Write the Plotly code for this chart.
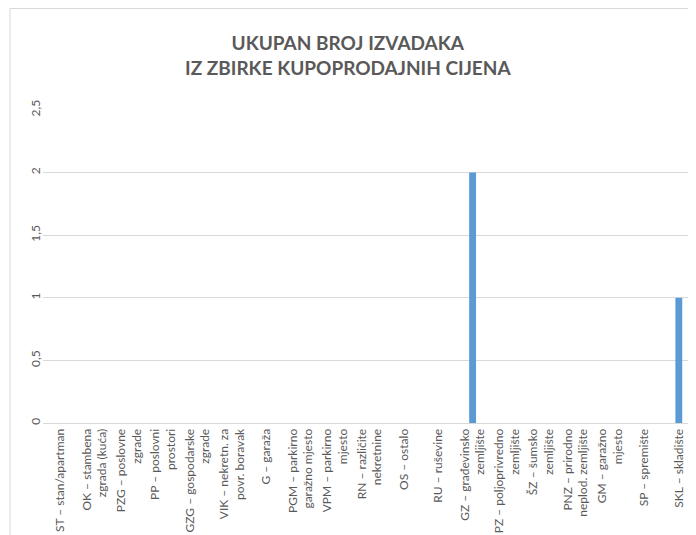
import plotly.graph_objects as go

categories = [
    "ST – stan/apartman",
    "OK – stambena<br>zgrada (kuća)",
    "PZG – poslovne<br>zgrade",
    "PP – poslovni<br>prostori",
    "GZG – gospodarske<br>zgrade",
    "VIK – nekretn. za<br>povr. boravak",
    "G – garaža",
    "PGM – parkirno<br>garažno mjesto",
    "VPM – parkirno<br>mjesto",
    "RN – različite<br>nekretnine",
    "OS – ostalo",
    "RU – ruševine",
    "GZ – građevinsko<br>zemljište",
    "PZ – poljoprivredno<br>zemljište",
    "ŠZ – šumsko<br>zemljište",
    "PNZ – prirodno<br>neplod. zemljište",
    "GM – garažno<br>mjesto",
    "SP – spremište",
    "SKL – skladište",
]
values = [0, 0, 0, 0, 0, 0, 0, 0, 0, 0, 0, 0, 2, 0, 0, 0, 0, 0, 1]
y_ticks = [0, 0.5, 1, 1.5, 2, 2.5]
y_tick_labels = ["0", "0,5", "1", "1,5", "2", "2,5"]

FONT = "Lato"
GRAY = "#595959"

W, H = 688, 527
L, T, B = 35, 102, 112
PW, PH = W - L, H - T - B

fig = go.Figure()
fig.add_trace(go.Bar(
    x=list(range(len(categories))),
    y=values,
    marker=dict(color="#5B9BD5", line=dict(width=0)),
    width=0.2,
))

fig.update_layout(
    width=W, height=H,
    margin=dict(l=L, r=0, t=T, b=B),
    paper_bgcolor="white", plot_bgcolor="white",
    separators=", ",
    showlegend=False,
    font=dict(family=FONT, color=GRAY, size=12),
    annotations=[dict(
        text="<b>UKUPAN BROJ IZVADAKA<br>IZ ZBIRKE KUPOPRODAJNIH CIJENA</b>",
        xref="paper", yref="paper", x=(340 - L) / PW, y=1 + (T - 46.5) / PH,
        xanchor="center", yanchor="middle", showarrow=False,
        font=dict(family=FONT, size=19, color=GRAY),
    )],
    shapes=[
        dict(type="line", xref="paper", yref="paper",
             x0=(2 - L) / PW, x1=(2 - L) / PW, y0=-1, y1=1 + (T - 0.5) / PH,
             line=dict(color="#D9D9D9", width=1)),
        dict(type="line", xref="paper", yref="paper",
             x0=(2 - L) / PW, x1=1.1, y0=1 + (T - 0.5) / PH, y1=1 + (T - 0.5) / PH,
             line=dict(color="#D9D9D9", width=1)),
    ],
)

fig.update_xaxes(
    tickmode="array", tickvals=list(range(len(categories))), ticktext=categories,
    range=[-0.5, len(categories) - 0.5],
    tickangle=-90, showgrid=False, showline=True, linecolor="#D9D9D9", linewidth=1,
    ticks="", tickfont=dict(family=FONT, size=12, color=GRAY), zeroline=False,
)
fig.update_yaxes(
    range=[0, 2.5], tickmode="array", tickvals=y_ticks, ticktext=y_tick_labels,
    tickangle=-90, showgrid=True, gridcolor="#D9D9D9", gridwidth=1,
    zeroline=False, showline=False, ticks="", ticklen=0,
    tickfont=dict(family=FONT, size=12, color=GRAY),
)

fig.write_html("out.html")
